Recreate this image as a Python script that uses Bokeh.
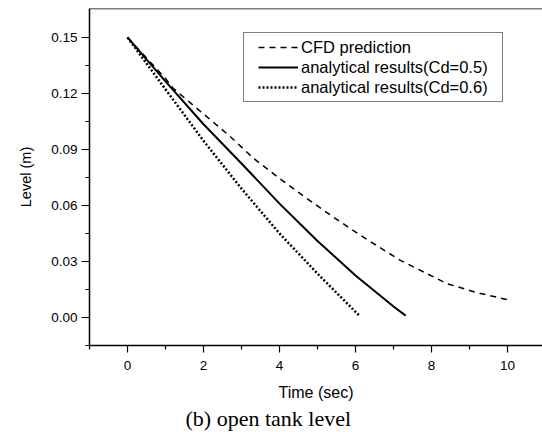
from bokeh.plotting import figure
from bokeh.models import (Legend, LegendItem, Title, FixedTicker, PrintfTickFormatter,
                          Range1d, Span)
from bokeh.embed import file_html
from bokeh.resources import INLINE

# ---- data ----
t_cfd = [0.0, 0.5, 1.0, 1.2, 2.0, 2.7, 3.3, 4.0, 4.64, 5.4, 6.13, 7.18, 8.41, 9.2, 10.0]
lvl_cfd = [0.150, 0.139, 0.128, 0.1228, 0.109, 0.097, 0.0855, 0.0745, 0.0649, 0.054,
           0.044, 0.0306, 0.0181, 0.0133, 0.0095]

t_cd05 = [0.0, 1.0, 2.0, 3.0, 4.0, 5.0, 6.0, 7.0, 7.32]
lvl_cd05 = [0.150, 0.1265, 0.1035, 0.0825, 0.061, 0.041, 0.0225, 0.0059, 0.001]

t_cd06 = [0.0, 1.0, 2.0, 3.0, 4.0, 5.0, 6.0, 6.1]
lvl_cd06 = [0.150, 0.1222, 0.0946, 0.069, 0.045, 0.0235, 0.003, 0.001]

series_names = ["CFD prediction", "analytical results(Cd=0.5)", "analytical results(Cd=0.6)"]

x_major = [0, 2, 4, 6, 8, 10]
x_minor = [-1, 1, 3, 5, 7, 9]
y_major = [0.00, 0.03, 0.06, 0.09, 0.12, 0.15]
y_minor = [-0.015, 0.015, 0.045, 0.075, 0.105, 0.135]

x_title = "Time (sec)"
y_title = "Level (m)"
caption = "(b) open tank level"

SANS = "Liberation Sans"
SERIF = "Liberation Serif"

p = figure(width=542, height=432, output_backend="svg", toolbar_location=None,
           x_range=Range1d(-1, 10.92), y_range=Range1d(-0.015, 0.1655),
           min_border_left=89, min_border_right=0, min_border_top=8, min_border_bottom=87)
p.outline_line_color = None
p.grid.visible = False
p.background_fill_color = "white"
p.border_fill_color = "white"

r_cfd = p.line(t_cfd, lvl_cfd, line_color="black", line_width=1.5, line_dash="6 5")
r_05 = p.line(t_cd05, lvl_cd05, line_color="black", line_width=2)
r_06 = p.line(t_cd06, lvl_cd06, line_color="black", line_width=2.5, line_dash="2 2")

# top frame line
p.add_layout(Span(location=p.y_range.end, dimension="width", line_color="black", line_width=1.5))

# axes
xa = p.xaxis[0]
xa.ticker = FixedTicker(ticks=x_major, minor_ticks=x_minor)
xa.major_tick_out = 7
xa.major_tick_in = 0
xa.minor_tick_out = 4
xa.minor_tick_in = 0
xa.major_label_standoff = 8
xa.axis_label = x_title
xa.axis_label_standoff = 11
xa.axis_label_text_font = SANS
xa.axis_label_text_font_style = "normal"
xa.axis_label_text_font_size = "16px"
xa.major_label_text_font = SANS
xa.major_label_text_font_size = "13.5px"

ya = p.yaxis[0]
ya.ticker = FixedTicker(ticks=y_major, minor_ticks=y_minor)
ya.formatter = PrintfTickFormatter(format="%.2f")
ya.major_tick_out = 8
ya.major_tick_in = 0
ya.minor_tick_out = 4
ya.minor_tick_in = 0
ya.major_label_standoff = 4
ya.major_label_text_font = SANS
ya.major_label_text_font_size = "13.5px"

for ax in (xa, ya):
    ax.axis_line_color = "black"
    ax.axis_line_width = 1.5
    ax.major_tick_line_color = "black"
    ax.minor_tick_line_color = "black"
    ax.major_tick_line_width = 1.2
    ax.minor_tick_line_width = 1.2
    ax.major_label_text_color = "black"
    ax.axis_label_text_color = "black"

p.add_layout(Title(text=y_title, align="center", offset=10, standoff=29,
                   text_font=SANS, text_font_size="14.5px", text_font_style="normal",
                   text_color="black"), "left")

p.add_layout(Title(text=caption, align="left", offset=96, standoff=0,
                   text_font=SERIF, text_font_size="22px", text_font_style="normal",
                   text_color="black"), "below")

items = [LegendItem(label=series_names[0], renderers=[r_cfd]),
         LegendItem(label=series_names[1], renderers=[r_05]),
         LegendItem(label=series_names[2], renderers=[r_06])]
legend_kw = dict(items=items, location=(154, 243), margin=0, spacing=0,
                 glyph_width=40, glyph_height=20, label_height=20, label_standoff=3,
                 label_text_font=SANS, label_text_font_size="16.5px", label_text_color="black",
                 border_line_color="black", border_line_width=1, background_fill_alpha=1.0)
try:
    legend = Legend(padding=dict(left=14, right=14, top=4, bottom=4), **legend_kw)
except Exception:
    legend = Legend(padding=6, **legend_kw)
p.add_layout(legend)

open("out.html", "w").write(file_html(p, INLINE))
